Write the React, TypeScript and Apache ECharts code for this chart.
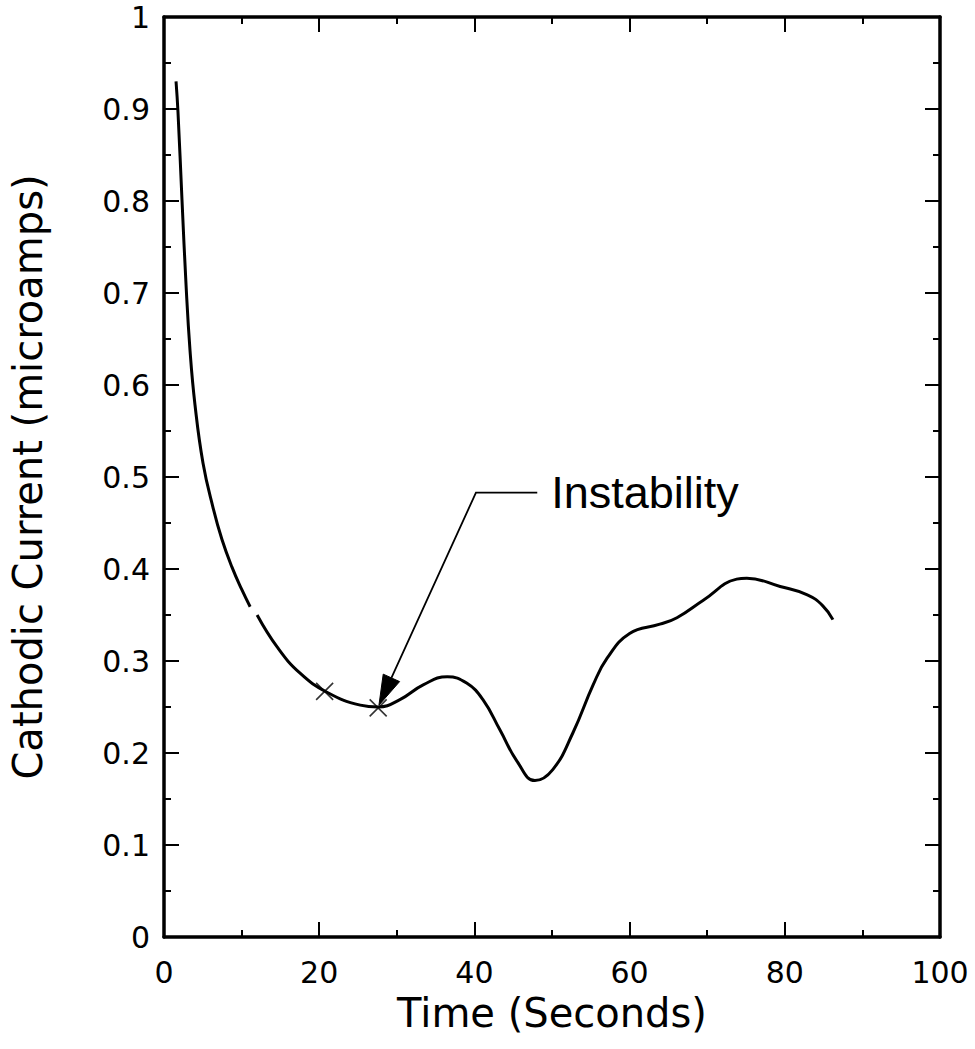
import React, { useEffect, useRef } from "react";
import * as echarts from "echarts";

const timeSeconds = [1.55, 1.8, 2.32, 2.84, 3.35, 4.0, 5.03, 6.31, 7.47, 8.76, 10.0, 11.1, 11.5, 12.0, 14.6, 17.5, 21.0, 25.3, 27.6, 30.4, 33.4, 36.5, 39.0, 41.1, 43.3, 45.5, 47.8, 50.1, 52.7, 55.3, 57.1, 60.0, 63.9, 66.1, 69.5, 73.8, 75.1, 79.4, 82.9, 84.9, 86.2];
const currentMicroamps = [0.93, 0.897, 0.801, 0.709, 0.638, 0.578, 0.515, 0.467, 0.432, 0.402, 0.378, 0.359, null, 0.35, 0.315, 0.287, 0.266, 0.252, 0.25, 0.258, 0.274, 0.283, 0.276, 0.258, 0.225, 0.191, 0.17, 0.182, 0.222, 0.274, 0.303, 0.33, 0.34, 0.347, 0.366, 0.389, 0.39, 0.381, 0.372, 0.36, 0.345];

const markerTimes = [20.7, 27.6];
const markerCurrents = [0.267, 0.249];

const xTicks = [0, 20, 40, 60, 80, 100];
const yTicks = [0, 0.1, 0.2, 0.3, 0.4, 0.5, 0.6, 0.7, 0.8, 0.9, 1];

const annotationText = "Instability";
const annotationElbow = [40.2, 0.483];
const annotationStart = [48.1, 0.483];
const annotationTip = [27.7, 0.252];

const FONT = "DejaVu Sans";

export default function App() {
  const ref = useRef<HTMLDivElement>(null);
  useEffect(() => {
    if (!ref.current) return;
    const chart = echarts.init(ref.current, null, { renderer: "svg" });
    const lineData = timeSeconds.map((t, i) => [t, currentMicroamps[i] === null ? "-" : currentMicroamps[i]]);
    const axisLine = { show: true, onZero: false, lineStyle: { color: "#000", width: 3.5 } };
    const axisTick = { show: true, inside: true, length: 15, lineStyle: { color: "#000", width: 2 } };
    const minorTick = { show: true, splitNumber: 2, length: 7, lineStyle: { color: "#000", width: 2 } };
    const xBase = { type: "value", min: 0, max: 100, interval: 20 };
    const yBase = { type: "value", min: 0, max: 1, interval: 0.1 };
    chart.setOption({
      animation: false,
      backgroundColor: "#fff",
      grid: { left: 164, top: 17, right: 35, bottom: 112, containLabel: false, outerBoundsMode: "none" },
      xAxis: [
        {
          ...xBase,
          position: "bottom",
          axisLine, axisTick, minorTick,
          splitLine: { show: false },
          axisLabel: { color: "#000", fontSize: 30, fontFamily: FONT, margin: 20, formatter: (v: number) => (xTicks.includes(v) ? String(v) : "") },
          name: "Time (Seconds)",
          nameLocation: "middle",
          nameGap: 56,
          nameTextStyle: { color: "#000", fontSize: 40, fontFamily: FONT },
        },
        {
          ...xBase,
          position: "top",
          axisLine, axisTick, minorTick,
          splitLine: { show: false },
          axisLabel: { show: false },
        },
      ],
      yAxis: [
        {
          ...yBase,
          position: "left",
          axisLine, axisTick, minorTick,
          splitLine: { show: false },
          axisLabel: { color: "#000", fontSize: 30, fontFamily: FONT, margin: 14, formatter: (v: number) => { const m = yTicks.find((t) => Math.abs(t - v) < 1e-9); return m === undefined ? "" : String(m); } },
          name: "Cathodic Current (microamps)",
          nameLocation: "middle",
          nameGap: 116,
          nameTextStyle: { color: "#000", fontSize: 40, fontFamily: FONT },
        },
        {
          ...yBase,
          position: "right",
          axisLine, axisTick, minorTick,
          splitLine: { show: false },
          axisLabel: { show: false },
        },
      ],
      series: [
        {
          type: "line",
          data: lineData,
          smooth: 0.45,
          showSymbol: false,
          connectNulls: false,
          lineStyle: { color: "#000", width: 3 },
          xAxisIndex: 0,
          yAxisIndex: 0,
        },
        {
          type: "scatter",
          data: markerTimes.map((t, i) => [t, markerCurrents[i]]),
          symbol: "path://M0,0L10,10M10,0L0,10",
          symbolSize: 17,
          itemStyle: { color: "none", borderColor: "#000", borderWidth: 1.6 },
          xAxisIndex: 0,
          yAxisIndex: 0,
          z: 5,
        },
      ],
    });

    const px = (p: number[]) => chart.convertToPixel({ xAxisIndex: 0, yAxisIndex: 0 }, p) as number[];
    const s = px(annotationStart);
    const e = px(annotationElbow);
    const t = px(annotationTip);
    const dx = t[0] - e[0];
    const dy = t[1] - e[1];
    const len = Math.hypot(dx, dy);
    const ux = dx / len;
    const uy = dy / len;
    const headLen = 30;
    const headHalf = 9;
    const bx = t[0] - ux * headLen;
    const by = t[1] - uy * headLen;
    const nx = -uy;
    const ny = ux;
    chart.setOption({
      graphic: [
        {
          type: "polyline",
          shape: { points: [s, e, [bx, by]] },
          style: { stroke: "#000", lineWidth: 1.8, fill: "none" },
          z: 10,
        },
        {
          type: "polygon",
          shape: { points: [t, [bx + nx * headHalf, by + ny * headHalf], [bx - nx * headHalf, by - ny * headHalf]] },
          style: { fill: "#000", stroke: "#000", lineWidth: 1 },
          z: 10,
        },
        {
          type: "text",
          x: s[0] + 14,
          y: s[1],
          style: { text: annotationText, fontSize: 45, fontFamily: "Liberation Sans", fill: "#000", verticalAlign: "middle", align: "left" },
          z: 10,
        },
      ],
    });
    return () => chart.dispose();
  }, []);
  return <div ref={ref} style={{ position: "fixed", left: 0, top: 0, width: 975, height: 1049, background: "#fff" }} />;
}
